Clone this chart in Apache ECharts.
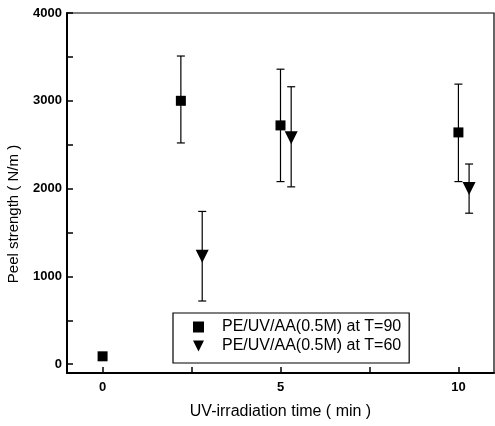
<!DOCTYPE html>
<html>
<head>
<meta charset="utf-8">
<script src="https://cdn.jsdelivr.net/npm/echarts@6/dist/echarts.min.js"></script>
<style>
html,body{margin:0;padding:0;background:#fff;}
#chart{width:495px;height:426px;}
</style>
</head>
<body>
<div id="chart"></div>
<script>
// Peel strength vs UV-irradiation time, two grafting temperatures
const seriesNames = ['PE/UV/AA(0.5M) at T=90', 'PE/UV/AA(0.5M) at T=60'];

// T=90 : time (min), mean peel strength, lower and upper error limits
const t90Time = [0, 2.2, 5.0, 10.0];
const t90Mean = [90, 3000, 2720, 2640];
const t90Low  = [60, 2520, 2080, 2080];
const t90High = [120, 3510, 3360, 3190];

// T=60
const t60Time = [2.8, 5.3, 10.3];
const t60Mean = [1230, 2580, 2000];
const t60Low  = [720, 2020, 1720];
const t60High = [1740, 3160, 2280];

const xLabels = [0, 5, 10];
const xTicks = [0, 2.5, 5, 7.5, 10];
const yLabels = [0, 1000, 2000, 3000, 4000];
const yTicks = [0, 500, 1000, 1500, 2000, 2500, 3000, 3500, 4000];

const downTri = 'path://M0,0 L10,0 L5,10 Z';
const font = 'Liberation Sans, Arial, sans-serif';

function pts(xs, ys) { return xs.map((x, i) => [x, ys[i]]); }
function bars(xs, lo, hi) { return xs.map((x, i) => [x, lo[i], hi[i]]); }

function errorBar(params, api) {
  const x = api.value(0);
  const lo = api.coord([x, api.value(1)]);
  const hi = api.coord([x, api.value(2)]);
  const cap = 4;
  const style = { stroke: '#000', lineWidth: 1.2 };
  return {
    type: 'group',
    children: [
      { type: 'line', shape: { x1: hi[0], y1: hi[1], x2: lo[0], y2: lo[1] }, style },
      { type: 'line', shape: { x1: hi[0] - cap, y1: hi[1], x2: hi[0] + cap, y2: hi[1] }, style },
      { type: 'line', shape: { x1: lo[0] - cap, y1: lo[1], x2: lo[0] + cap, y2: lo[1] }, style }
    ]
  };
}

const chart = echarts.init(document.getElementById('chart'), null, { renderer: 'canvas' });
chart.setOption({
  animation: false,
  backgroundColor: '#fff',
  grid: { left: 67, top: 13, right: 1, bottom: 53, show: true, borderColor: '#000', borderWidth: 1.2 },
  legend: {
    data: [
      { name: seriesNames[0], icon: 'rect' },
      { name: seriesNames[1], icon: downTri }
    ],
    orient: 'vertical',
    left: 173, top: 313,
    padding: [6, 8, 9, 20],
    itemGap: 3,
    itemWidth: 11, itemHeight: 11,
    borderColor: '#000', borderWidth: 1.2,
    textStyle: { fontFamily: font, fontSize: 16, color: '#000', padding: [0, 0, 0, 13] }
  },
  xAxis: {
    type: 'value', min: -1, max: 11,
    name: 'UV-irradiation time ( min )', nameLocation: 'middle', nameGap: 31,
    nameTextStyle: { fontFamily: font, fontSize: 16, color: '#000' },
    axisLine: { onZero: false, lineStyle: { color: '#000', width: 2 } },
    axisTick: { inside: true, length: 6, customValues: xTicks, lineStyle: { color: '#000', width: 1.5 } },
    axisLabel: { customValues: xLabels, margin: 8, fontFamily: font, fontSize: 13, fontWeight: 'bold', color: '#000' },
    splitLine: { show: false }
  },
  yAxis: {
    type: 'value', min: -100, max: 4000,
    axisLine: { onZero: false, lineStyle: { color: '#000', width: 2 } },
    axisTick: { inside: true, length: 6, customValues: yTicks, lineStyle: { color: '#000', width: 1.5 } },
    axisLabel: { customValues: yLabels, margin: 5, fontFamily: font, fontSize: 13, fontWeight: 'bold', color: '#000',
                 formatter: v => String(v) },
    splitLine: { show: false }
  },
  graphic: [{
    type: 'text', x: 14, y: 214, rotation: Math.PI / 2,
    style: { text: 'Peel strength ( N/m )', fontFamily: font, fontSize: 15, fill: '#000',
             align: 'center', verticalAlign: 'middle' }
  }],
  series: [
    { type: 'custom', renderItem: errorBar, data: bars(t90Time, t90Low, t90High), z: 1, silent: true },
    { type: 'custom', renderItem: errorBar, data: bars(t60Time, t60Low, t60High), z: 1, silent: true },
    { name: seriesNames[0], type: 'scatter', data: pts(t90Time, t90Mean), symbol: 'rect', symbolSize: 10,
      itemStyle: { color: '#000', opacity: 1 }, z: 3 },
    { name: seriesNames[1], type: 'scatter', data: pts(t60Time, t60Mean), symbol: downTri, symbolSize: [13, 13],
      itemStyle: { color: '#000', opacity: 1 }, z: 3 }
  ]
});
</script>
</body>
</html>
